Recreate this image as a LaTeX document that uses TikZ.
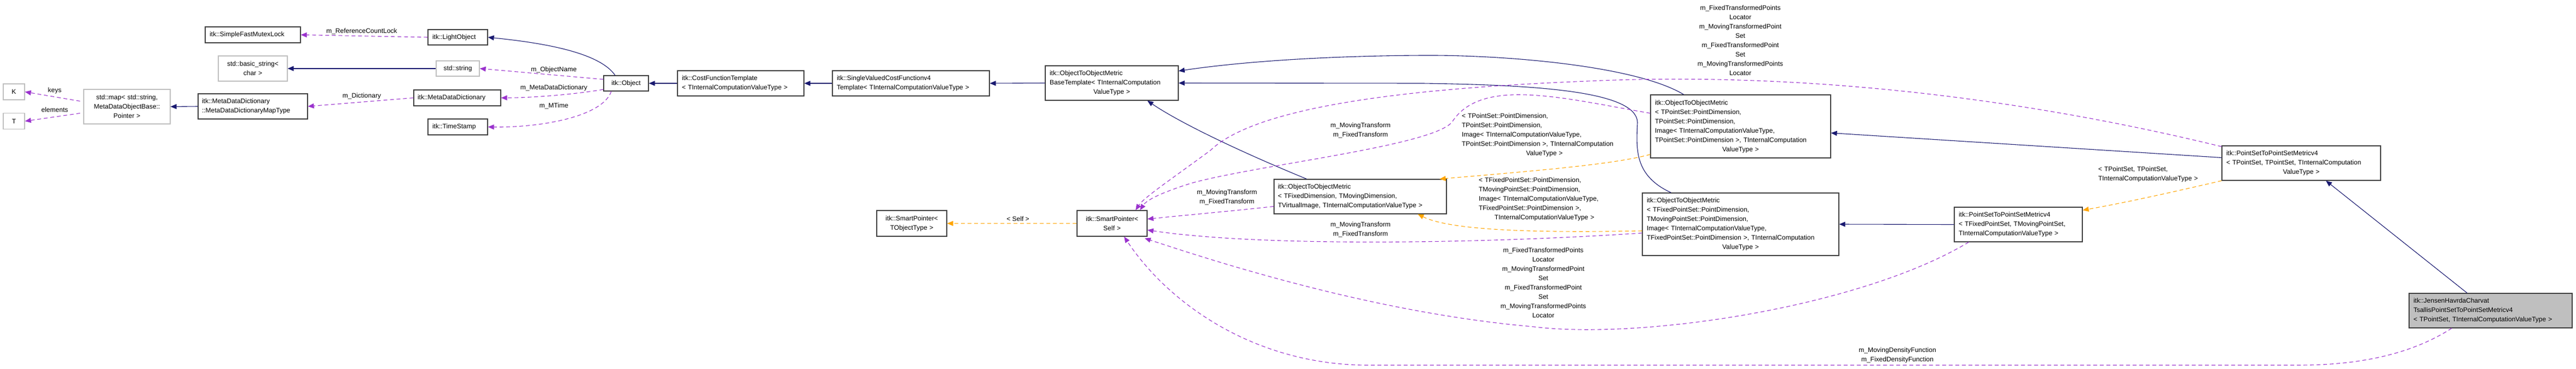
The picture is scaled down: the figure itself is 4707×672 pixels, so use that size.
\documentclass[tikz,border=0pt]{standalone}
\usepackage{fontspec}
\setmainfont{Liberation Sans}
\usetikzlibrary{arrows.meta,calc}
\definecolor{navy}{RGB}{25,25,112}
\definecolor{purp}{RGB}{154,50,205}
\definecolor{orng}{RGB}{255,165,0}
\definecolor{bord}{RGB}{64,64,64}
\definecolor{gbord}{RGB}{191,191,191}
\newcommand{\ctr}[1]{\makebox[\linewidth]{#1}}
\tikzset{
  box/.style={draw=bord, line width=1.2pt, inner sep=0pt, align=left, font=\fontsize{12}{17}\selectfont},
  gbox/.style={box, draw=gbord},
  lbl/.style={inner sep=0pt, font=\fontsize{12}{17}\selectfont},
  inh/.style={draw=navy, line width=1.1pt, -{Triangle[length=11pt,width=9pt]}},
  use/.style={draw=purp, line width=1.1pt, dash pattern=on 7pt off 5pt, -{Triangle[length=11pt,width=9pt]}},
  tpl/.style={draw=orng, line width=1.1pt, dash pattern=on 7pt off 5pt, -{Triangle[length=11pt,width=9pt]}},
}
\begin{document}
\begin{tikzpicture}[x=1pt,y=-1pt]
\useasboundingbox (0,0) rectangle (4707,672);
% nodes
\node[box, minimum width=174, minimum height=29, text width=158] (SFML) at (462,63.5) {itk::SimpleFastMutexLock};
\node[box, minimum width=109, minimum height=28, text width=93] (LO) at (836.5,68) {itk::LightObject};
\node[gbox, minimum width=126, minimum height=46, text width=110, align=center] (BS) at (462,125) {std::basic\_string<\\char >};
\node[gbox, minimum width=79, minimum height=28, text width=63, align=center] (SS) at (836.5,125) {std::string};
\node[box, minimum width=82, minimum height=28, text width=66, align=center] (OBJ) at (1144,152) {itk::Object};
\node[gbox, minimum width=39, minimum height=29, text width=30, align=center] (K) at (25.5,167.5) {K};
\node[gbox, minimum width=39, minimum height=29, text width=30, align=center] (T) at (25.5,221) {T};
\node[gbox, minimum width=158, minimum height=63, text width=146, align=center] (MAP) at (232,194.5) {std::map< std::string,\\MetaDataObjectBase::\\Pointer >};
\node[box, minimum width=200, minimum height=46, text width=186] (MDDM) at (462,194) {itk::MetaDataDictionary\\::MetaDataDictionaryMapType};
\node[box, minimum width=159, minimum height=29, text width=145] (MDD) at (835.5,178.5) {itk::MetaDataDictionary};
\node[box, minimum width=109, minimum height=29, text width=93] (TS) at (836.5,231.5) {itk::TimeStamp};
\node[box, minimum width=231, minimum height=46, text width=215] (CFT) at (1353.5,152) {itk::CostFunctionTemplate\\< TInternalComputationValueType >};
\node[box, minimum width=287, minimum height=46, text width=271] (SVCF) at (1664.5,152) {itk::SingleValuedCostFunctionv4\\Template< TInternalComputationValueType >};
\node[box, minimum width=243, minimum height=63, text width=227] (OTOB) at (2031.5,151.5) {itk::ObjectToObjectMetric\\BaseTemplate< TInternalComputation\\\ctr{ValueType >}};
\node[box, minimum width=128, minimum height=47, text width=112, align=center] (SPT) at (1666,407.5) {itk::SmartPointer<\\TObjectType >};
\node[box, minimum width=128, minimum height=47, text width=112, align=center] (SPS) at (2032,407.5) {itk::SmartPointer<\\Self >};
\node[box, minimum width=315, minimum height=63, text width=301] (OFD) at (2485.5,358.5) {itk::ObjectToObjectMetric\\< TFixedDimension, TMovingDimension,\\ TVirtualImage, TInternalComputationValueType >};
\node[box, minimum width=329, minimum height=115, text width=313] (OPS) at (3180.5,230.5) {itk::ObjectToObjectMetric\\< TPointSet::PointDimension,\\ TPointSet::PointDimension,\\ Image< TInternalComputationValueType,\\ TPointSet::PointDimension >, TInternalComputation\\\ctr{ValueType >}};
\node[box, minimum width=359, minimum height=114, text width=343] (OFPS) at (3180.5,409) {itk::ObjectToObjectMetric\\< TFixedPointSet::PointDimension,\\ TMovingPointSet::PointDimension,\\ Image< TInternalComputationValueType,\\ TFixedPointSet::PointDimension >, TInternalComputation\\\ctr{ValueType >}};
\node[box, minimum width=234, minimum height=63, text width=218] (PFIX) at (3688,409.5) {itk::PointSetToPointSetMetricv4\\< TFixedPointSet, TMovingPointSet,\\ TInternalComputationValueType >};
\node[box, minimum width=290, minimum height=63, text width=274] (PPS) at (4205,297.5) {itk::PointSetToPointSetMetricv4\\< TPointSet, TPointSet, TInternalComputation\\\ctr{ValueType >}};
\node[box, fill=gbord, minimum width=298, minimum height=63, text width=282] (JHC) at (4551,566.5) {itk::JensenHavrdaCharvat\\TsallisPointSetToPointSetMetricv4\\< TPointSet, TInternalComputationValueType >};
% left part edges
\draw[use] (LO.west) -- (SFML.east);
\node[lbl] (l1) at (661,57) {m\_ReferenceCountLock};
\draw[inh] ($(OBJ.north)+(-20,0)$) .. controls (1095,95) and (990,78) .. (LO.east);
\draw[inh] (SS.west) -- (BS.east);
\draw[use] (OBJ.170) -- (SS.east);
\node[lbl] (l2) at (1012,127) {m\_ObjectName};
\draw[use] (OBJ.195) .. controls (1050,172) and (980,178) .. (MDD.east);
\node[lbl] (l3) at (1012,160) {m\_MetaDataDictionary};
\draw[use] ($(OBJ.south)+(-27,0)$) .. controls (1100,215) and (980,233) .. (TS.east);
\node[lbl] (l4) at (1012,193) {m\_MTime};
\draw[use] (MDD.west) -- (MDDM.east);
\node[lbl] (l5) at (661,175) {m\_Dictionary};
\draw[inh] (MDDM.west) -- (MAP.east);
\draw[use] ($(MAP.west)+(-6,-10)$) -- (K.east);
\node[lbl] (l6) at (100,165) {keys};
\draw[use] ($(MAP.west)+(-6,12)$) -- (T.east);
\node[lbl] (l7) at (100,200) {elements};
\draw[inh] (CFT.west) -- (OBJ.east);
\draw[inh] (SVCF.west) -- (CFT.east);
\draw[inh] (OTOB.west) -- (SVCF.east);
\draw[tpl] (SPS.west) -- (SPT.east);
\node[lbl] (l8) at (1860,399) {< Self >};
% inheritance to base
\draw[inh] ($(OFD.north)+(-98,0)$) .. controls (2250,270) and (2150,220) .. ($(OTOB.south)+(65,0)$);
\draw[inh] ($(OPS.north)+(-104,0)$) .. controls (2990,120) and (2750,100) .. (2600,101) .. controls (2400,102) and (2250,115) .. ($(OTOB.east)+(0,-22)$);
\draw[inh] ($(OFPS.north)+(-127,0)$) .. controls (2985,320) and (2990,270) .. (2992,223) .. controls (2990,165) and (2800,155) .. (2600,152) -- (OTOB.east);
% templates
\draw[tpl] ($(OPS.south west)+(0,-7)$) .. controls (2950,300) and (2800,312) .. ($(OFD.north east)+(-13,0)$);
\node[lbl, text width=302, align=left] (l9) at (2822,246) {< TPointSet::PointDimension,\\TPointSet::PointDimension,\\Image< TInternalComputationValueType,\\TPointSet::PointDimension >, TInternalComputation\\\ctr{ValueType >}};
\draw[tpl] ($(OFPS.west)+(0,12)$) .. controls (2800,425) and (2650,420) .. ($(OFD.south east)+(-53,0)$);
\node[lbl, text width=240, align=left] (l10) at (2822,363.5) {< TFixedPointSet::PointDimension,\\TMovingPointSet::PointDimension,\\Image< TInternalComputationValueType,\\TFixedPointSet::PointDimension >,\\\ctr{TInternalComputationValueType >}};
\draw[inh] ($(PPS.west)+(0,-10)$) -- ($(OPS.east)+(0,12)$);
\draw[inh] (PFIX.west) -- (OFPS.east);
\draw[tpl] (PPS.south west) .. controls (3950,355) and (3880,370) .. ($(PFIX.north east)+(0,6)$);
\node[lbl, text width=200, align=left] (l11) at (3934,318) {< TPointSet, TPointSet,\\TInternalComputationValueType >};
\draw[inh] ($(JHC.north)+(-43,0)$) -- ($(PPS.south)+(45,0)$);
% uses to SmartPointer<Self>
\draw[use] ($(OFD.west)+(0,18)$) .. controls (2250,385) and (2170,392) .. ($(SPS.east)+(0,-8)$);
\node[lbl, align=center] (l12) at (2242,360) {m\_MovingTransform\\m\_FixedTransform};
\draw[use] ($(OPS.west)+(0,-24)$) .. controls (2860,180) and (2710,140) .. (2655,220) .. controls (2630,265) and (2300,300) .. (2177,334) .. controls (2120,352) and (2095,365) .. ($(SPS.north)+(51,0)$);
\node[lbl, align=center] (l13) at (2486,238) {m\_MovingTransform\\m\_FixedTransform};
\draw[use] ($(PPS.north west)+(0,2)$) .. controls (3700,180) and (3300,130) .. (2900,148) .. controls (2600,160) and (2300,190) .. (2212,274) .. controls (2150,320) and (2090,360) .. ($(SPS.north)+(43,0)$);
\node[lbl, align=center] (l14) at (3180,73.5) {m\_FixedTransformedPoints\\Locator\\m\_MovingTransformedPoint\\Set\\m\_FixedTransformedPoint\\Set\\m\_MovingTransformedPoints\\Locator};
\draw[use] ($(OFPS.west)+(0,16)$) .. controls (2700,445) and (2300,450) .. ($(SPS.east)+(0,12)$);
\node[lbl, align=center] (l15) at (2486,419) {m\_MovingTransform\\m\_FixedTransform};
\draw[use] ($(PFIX.south west)+(27,0)$) .. controls (3400,560) and (3000,620) .. (2803,596) .. controls (2500,570) and (2200,470) .. ($(SPS.south east)+(-5,3)$);
\node[lbl, align=center] (l16) at (2820,515.5) {m\_FixedTransformedPoints\\Locator\\m\_MovingTransformedPoint\\Set\\m\_FixedTransformedPoint\\Set\\m\_MovingTransformedPoints\\Locator};
\draw[use] ($(JHC.south)+(-71,0)$) .. controls (4400,650) and (4300,666) .. (4200,666) -- (2500,666) .. controls (2300,666) and (2140,560) .. ($(SPS.south)+(22,0)$);
\node[lbl, align=center] (l17) at (3467,648) {m\_MovingDensityFunction\\m\_FixedDensityFunction};
\end{tikzpicture}
\end{document}
